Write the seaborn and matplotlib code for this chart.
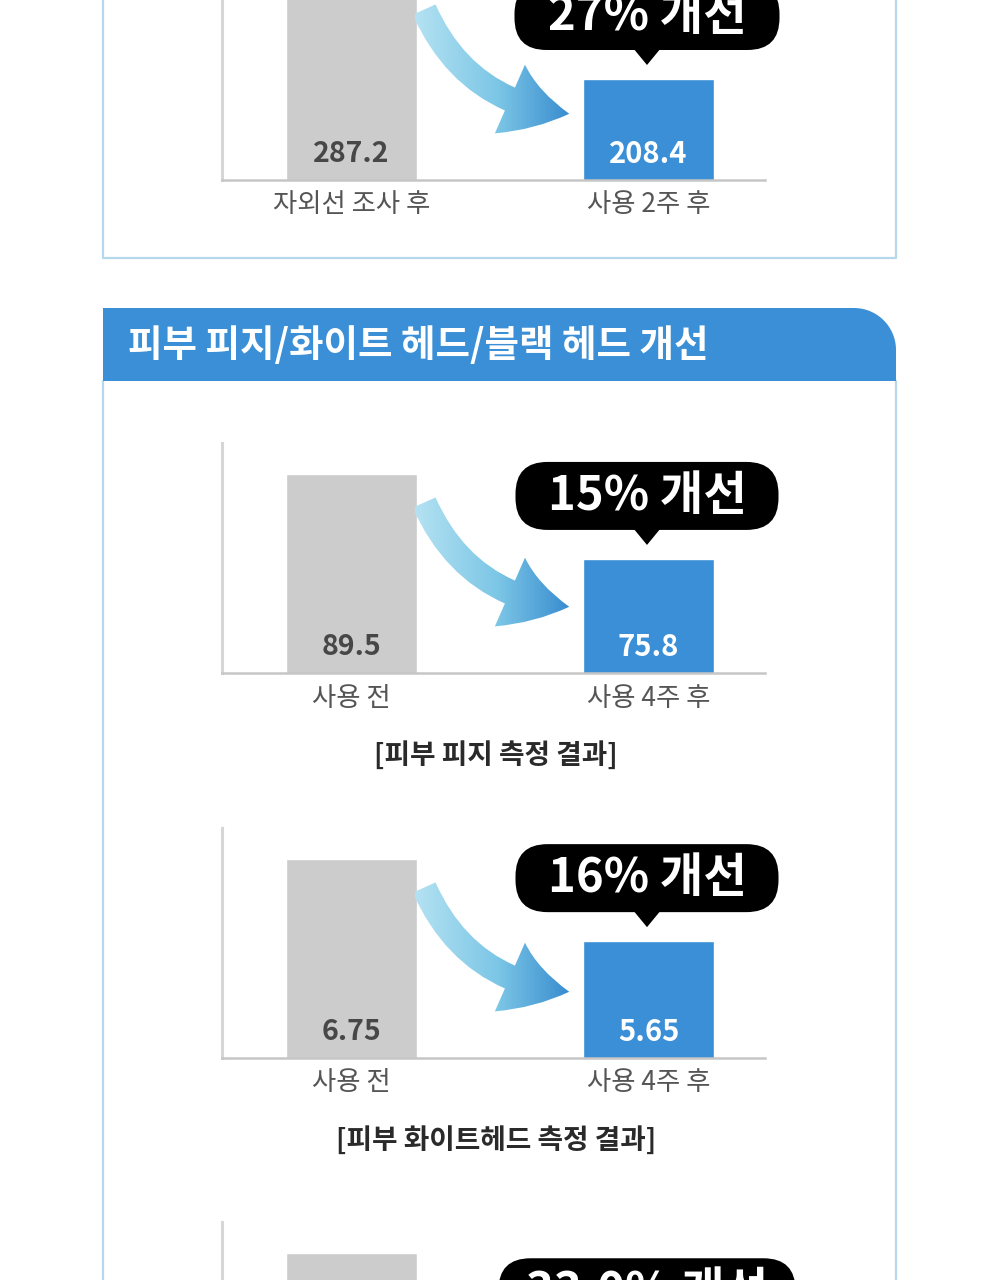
import numpy as np
import seaborn as sns
import matplotlib.pyplot as plt
from matplotlib.patches import FancyBboxPatch, FancyArrowPatch, Polygon
from matplotlib.colors import LinearSegmentedColormap

# 데이터
categories = [
    ["자외선 조사 후", "사용 2주 후"],
    ["사용 전", "사용 4주 후"],
    ["사용 전", "사용 4주 후"],
    ["사용 전", "사용 4주 후"],
]
before_values = [287.2, 89.5, 6.75, 2.88]
after_values = [208.4, 75.8, 5.65, 1.93]
improve_labels = ["27% 개선", "15% 개선", "16% 개선", "33.0% 개선"]
captions = [None, "[피부 피지 측정 결과]", "[피부 화이트헤드 측정 결과]", None]
y_limits = [(127.2, 312.1), (57.4, 94.5), (4.08, 7.17), (1.03, 3.17)]
section_title = "피부 피지/화이트 헤드/블랙 헤드 개선"

# 레이아웃 (픽셀)
W, H = 1000, 1280
baselines = [180, 673, 1058, 1452]
bubble_widths = [265, 263, 263, 297]
AX_H = 230
GREY = "#cccccc"
BLUE = "#3a8fd6"
BORDER = "#b5d8ec"

sns.set_theme(style="white")
plt.rcParams["font.family"] = ["Noto Sans CJK KR", "DejaVu Sans"]

fig = plt.figure(figsize=(10, 12.8), dpi=100)
fig.patch.set_facecolor("white")

for i in range(4):
    b = baselines[i]
    ax = fig.add_axes([222 / W, 1 - b / H, 543 / W, AX_H / H])
    sns.barplot(x=categories[i], y=[before_values[i], after_values[i]],
                hue=categories[i], palette=[GREY, BLUE], width=0.44,
                legend=False, saturation=1, ax=ax)
    ax.set_xlim(-0.436, 1.392)
    ax.set_ylim(*y_limits[i])
    ax.patch.set_alpha(0)
    ax.set_xticks([])
    ax.set_yticks([])
    ax.set_xlabel("")
    ax.set_ylabel("")
    for s in ["top", "right"]:
        ax.spines[s].set_visible(False)
    ax.spines["left"].set_color("#d6d6d6")
    ax.spines["left"].set_linewidth(2.2)
    ax.spines["bottom"].set_color("#c6c6c6")
    ax.spines["bottom"].set_linewidth(1.8)

    # 화면 밖 글자는 그리지 않음
    if b > H:
        continue
    tr = ax.get_xaxis_transform()
    vals = [before_values[i], after_values[i]]
    ax.text(0, 26 / AX_H, f"{vals[0]:g}", transform=tr, ha="center", va="center",
            fontsize=20.5, color="#474747", fontweight="bold")
    ax.text(1, 26 / AX_H, f"{vals[1]:g}", transform=tr, ha="center", va="center",
            fontsize=21, color="white", fontweight="bold")
    for j, lab in enumerate(categories[i]):
        ax.text(j, -25 / AX_H, lab, transform=tr, ha="center", va="center",
                fontsize=19, color="#555555", clip_on=False)

# 장식용 오버레이
ov = fig.add_axes([0, 0, 1, 1])
ov.set_xlim(0, W)
ov.set_ylim(H, 0)
ov.set_autoscale_on(False)
ov.axis("off")

# 박스 테두리
ov.plot([103, 103, 896, 896], [0, 258, 258, 0], color=BORDER, lw=1.6, zorder=1)
ov.plot([103, 103], [381, H], color=BORDER, lw=1.6, zorder=1)
ov.plot([896, 896], [381, H], color=BORDER, lw=1.6, zorder=1)

# 헤더
r = 42
t = np.linspace(np.pi / 2, 0, 30)
arc = np.column_stack([896 - r + r * np.cos(t), 308 + r - r * np.sin(t)])
hdr = np.vstack([[[103, 381], [103, 308]], arc, [[896, 381]]])
ov.add_patch(Polygon(hdr, closed=True, facecolor=BLUE, edgecolor="none", zorder=2))
ov.text(128, 345, section_title, ha="left", va="center", fontsize=27,
        fontweight="bold", color="white", zorder=3)

cmap = LinearSegmentedColormap.from_list("arr", ["#b4e2f2", "#7cc6e6", "#2f84cc"])
grad = np.linspace(0, 1, 256).reshape(1, -1)

for i in range(4):
    b = baselines[i]
    lo, hi = y_limits[i]
    bar_top = b - AX_H * (after_values[i] - lo) / (hi - lo)

    # 말풍선
    bw = bubble_widths[i]
    cx = 647
    by = bar_top - 29
    ov.add_patch(FancyBboxPatch((cx - bw / 2, by - 68), bw, 68,
                                boxstyle="round,pad=0,rounding_size=32",
                                facecolor="black", edgecolor="none", zorder=4))
    ov.add_patch(Polygon([[cx - 14, by - 2], [cx + 14, by - 2], [cx, by + 15]],
                         closed=True, facecolor="black", edgecolor="none", zorder=4))
    ov.text(cx, by - 34, improve_labels[i], ha="center", va="center", fontsize=34,
            fontweight="bold", color="white", zorder=5)

    # 곡선 화살표
    if b - 173 < H - 10:
        arrow = FancyArrowPatch((423, b - 173), (572, b - 66),
                                connectionstyle="arc3,rad=0.3",
                                arrowstyle="simple,head_width=2.7,head_length=2.2,tail_width=0.9",
                                mutation_scale=20, facecolor="none", edgecolor="none", zorder=1)
        ov.add_patch(arrow)
        im = ov.imshow(grad, cmap=cmap, extent=(415, 580, b - 30, b - 180),
                       aspect="auto", zorder=3)
        im.set_clip_path(arrow)

    if captions[i]:
        ov.text(496, b + 82, captions[i], ha="center", va="center", fontsize=20,
                fontweight="bold", color="#2a2a2a", zorder=3)

fig.savefig("out.png", dpi=100, facecolor="white")
